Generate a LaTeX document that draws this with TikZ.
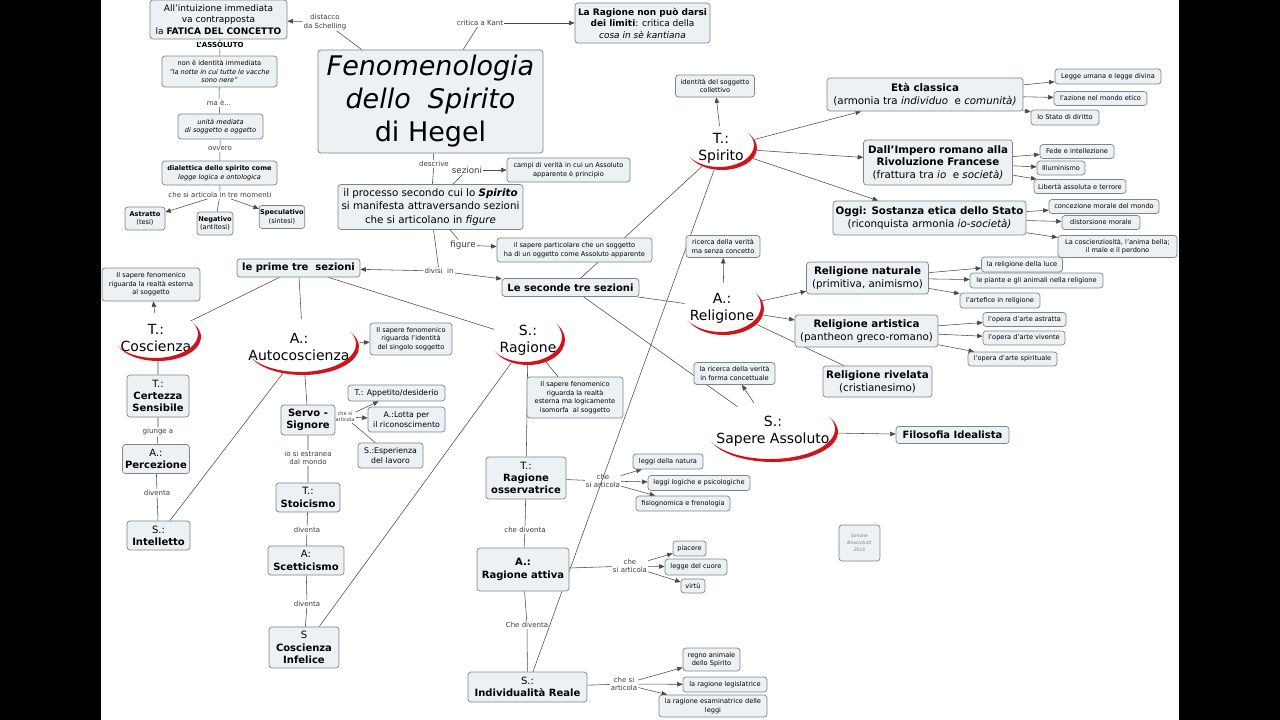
\documentclass[tikz,border=0pt]{standalone}
\usepackage{fontspec}
\setmainfont{DejaVu Sans}
\usetikzlibrary{shapes.geometric,arrows.meta,calc}
\definecolor{boxfill}{HTML}{EBF1F4}
\definecolor{boxline}{HTML}{7A868C}
\definecolor{linkgray}{HTML}{4A4A4A}
\definecolor{labgray}{HTML}{3C3C3C}
\definecolor{arcred}{HTML}{D0141C}
\pgfdeclarelayer{fondo}
\pgfdeclarelayer{collegamenti}
\pgfsetlayers{fondo,collegamenti,main}
\newcommand{\arcorosso}[3]{%
  \pgfmathsetmacro{\arcanga}{atan(#3/#2)}%
  \pgfmathsetmacro{\arcangb}{\arcanga-180}%
  \fill[arcred] ($(#1.center)+(\arcanga:#2pt and #3pt)$)
    arc[start angle=\arcanga, end angle=\arcangb, x radius=#2pt, y radius=#3pt]
    -- ($(#1.center)+(-3pt,3pt)+(\arcangb:#2pt and #3pt)$)
    arc[start angle=\arcangb, end angle=\arcanga, x radius=#2pt, y radius=#3pt]
    -- cycle;}

\begin{document}
\begin{tikzpicture}[x=1pt,y=-1pt,
  wh/.style 2 args={minimum width=#1pt, minimum height=#2pt},
  cbox/.style={draw=boxline, fill=boxfill, rounded corners=3pt, align=center, inner sep=1pt, line width=0.7pt},
  leafbox/.style={cbox, font=\fontsize{6.6}{8.5}\selectfont},
  medbox/.style={cbox, font=\fontsize{10.3}{13.2}\selectfont},
  figbox/.style={cbox, font=\fontsize{10}{12.2}\selectfont},
  linklab/.style={inner sep=1pt, align=center, text=labgray, font=\fontsize{7}{8.3}\selectfont},
  sezione/.style={ellipse, inner sep=0pt},
  seztext/.style={align=center, inner sep=0pt, font=\fontsize{14}{17}\selectfont},
  linea/.style={draw=linkgray, line width=0.55pt},
  freccia/.style={linea, -{Triangle[length=5.5pt,width=4.5pt]}}]
\useasboundingbox (0,0) rectangle (1280,720);
\begin{pgfonlayer}{fondo}
\fill[black] (0,0) rectangle (1280,720);
\fill[white] (101,0) rectangle (1179,720);
\end{pgfonlayer}

\node[cbox, wh={225}{103}, font=\fontsize{27}{33}\selectfont] (titolo) at (430.5,101.5) {\textit{Fenomenologia}\\\textit{dello\ \ Spirito}\\di Hegel};
\node[cbox, wh={135}{40}, font=\fontsize{9}{11.5}\selectfont] (kant) at (642.5,23) {\textbf{La Ragione non può darsi}\\\textbf{dei limiti}: critica della\\\textit{cosa in sè kantiana}};
\node[linklab] (critica) at (480,23) {critica a Kant};
\node[linklab] (distacco) at (325,22) {distacco\\da Schelling};
\node[cbox, wh={137}{39}, font=\fontsize{9}{11.5}\selectfont] (fatica) at (218.5,19.5) {All'intuizione immediata\\va contrapposta\\la \textbf{FATICA DEL CONCETTO}};
\node[linklab, text=black] (lassoluto) at (220,45) {\textbf{L'ASSOLUTO}};
\node[leafbox, wh={115}{31}] (nonid) at (219.5,71.5) {non è identità immediata\\\textit{"la notte in cui tutte le vacche}\\\textit{sono nere"}};
\node[linklab] (maee) at (219,103) {ma è...};
\node[leafbox, wh={85}{25}] (unita) at (220.5,126.5) {\textit{unità mediata}\\\textit{di soggetto e oggetto}};
\node[linklab] (ovvero) at (220,149) {ovvero};
\node[leafbox, wh={115}{24}] (dialettica) at (219.5,173) {\textbf{dialettica dello spirito come}\\\textit{legge logica e ontologica}};
\node[linklab] (momenti) at (220,195) {che si articola in tre momenti};
\node[leafbox, wh={40}{23}] (astratto) at (145,218.5) {\textbf{Astratto}\\(tesi)};
\node[leafbox, wh={36}{23}] (negativo) at (215,223.5) {\textbf{Negativo}\\(antitesi)};
\node[leafbox, wh={44}{23}] (speculativo) at (282,217) {\textbf{Speculativo}\\(sintesi)};

\node[linklab] (descrive) at (434,164) {descrive};
\node[linklab, font=\fontsize{8.7}{10}\selectfont] (sezioni) at (467,170) {sezioni};
\node[leafbox, wh={123}{24}] (campi) at (568.5,170) {campi di verità in cui un Assoluto\\apparente è principio};
\node[medbox, wh={185}{45}] (processo) at (430.5,207) {il processo secondo cui lo \textbf{\textit{Spirito}}\\si manifesta attraversando sezioni\\che si articolano in \textit{figure}};
\node[linklab, font=\fontsize{8.7}{10}\selectfont] (figure) at (463,245) {figure};
\node[leafbox, wh={155}{24}] (particolare) at (574.5,250) {il sapere particolare che un soggetto\\ha di un oggetto come Assoluto apparente};
\node[linklab] (divisi) at (439,271) {divisi\ \ in};
\node[figbox, wh={123}{18}] (prime) at (298.5,268) {\textbf{le prime tre\ \ sezioni}};
\node[figbox, wh={137}{18}] (seconde) at (570.5,287.5) {\textbf{Le seconde tre sezioni}};

\node[sezione, wh={86}{48}] (coscienza) at (158,337) {};
\node[seztext] (coscienzat) at (156,338) {T.:\\Coscienza};
\node[sezione, wh={112}{56}] (autocoscienza) at (303,347) {};
\node[seztext] (autocoscienzat) at (299,347) {A.:\\Autocoscienza};
\node[sezione, wh={74}{50}] (ragione) at (528,340) {};
\node[seztext] (ragionet) at (528,340) {S.:\\Ragione};
\node[sezione, wh={70}{44}] (spirito) at (722,148) {};
\node[seztext] (spiritot) at (721,148) {T.:\\Spirito};
\node[sezione, wh={80}{52}] (religione) at (724,309) {};
\node[seztext] (religionet) at (722,308) {A.:\\Religione};
\node[sezione, wh={130}{60}] (sapere) at (773,432) {};
\node[seztext] (saperet) at (773,431) {S.:\\Sapere Assoluto};
\arcorosso{coscienza}{43}{24}
\arcorosso{autocoscienza}{56}{28}
\arcorosso{ragione}{37}{25}
\arcorosso{spirito}{35}{22}
\arcorosso{religione}{40}{26}
\arcorosso{sapere}{65}{30}

\node[leafbox, wh={98}{33}] (realta) at (151,284.5) {Il sapere fenomenico\\riguarda la realtà esterna\\al soggetto};
\node[figbox, wh={62}{42}] (certezza) at (158,396) {T.:\\\textbf{Certezza}\\\textbf{Sensibile}};
\node[linklab] (giunge) at (158,432) {giunge a};
\node[figbox, wh={67}{29}] (percezione) at (156,459) {A.:\\\textbf{Percezione}};
\node[linklab] (diventaa) at (157,493) {diventa};
\node[figbox, wh={63}{29}] (intelletto) at (158.5,535.5) {S.:\\\textbf{Intelletto}};

\node[leafbox, wh={82}{32}] (identita) at (411,339) {Il sapere fenomenico\\riguarda l'identità\\del singolo soggetto};
\node[figbox, wh={54}{30}] (servo) at (308,420) {\textbf{Servo -}\\\textbf{Signore}};
\node[linklab, font=\fontsize{5}{6}\selectfont] (articolaa) at (345,417) {che si\\articola};
\node[cbox, wh={97}{16}, font=\fontsize{7.8}{10}\selectfont] (appetito) at (396.5,393) {T.: Appetito/desiderio};
\node[cbox, wh={77}{25}, font=\fontsize{7.8}{10}\selectfont] (lotta) at (406.5,419.5) {A.:Lotta per\\il riconoscimento};
\node[cbox, wh={65}{25}, font=\fontsize{7.8}{10}\selectfont] (esperienza) at (390.5,455.5) {S.:Esperienza\\del lavoro};
\node[linklab] (estranea) at (308,458) {io si estranea\\dal mondo};
\node[figbox, wh={64}{29}] (stoicismo) at (308,497.5) {T.:\\\textbf{Stoicismo}};
\node[linklab] (diventab) at (307,530) {diventa};
\node[figbox, wh={76}{29}] (scetticismo) at (306,560.5) {A:\\\textbf{Scetticismo}};
\node[linklab] (diventac) at (307,604) {diventa};
\node[figbox, wh={70}{41}] (infelice) at (304,647.5) {S\\\textbf{Coscienza}\\\textbf{Infelice}};

\node[leafbox, wh={96}{41}] (isomorfa) at (575,397.5) {Il sapere fenomenico\\riguarda la realtà\\esterna ma logicamente\\isomorfa\ \ al soggetto};
\node[figbox, wh={80}{42}] (osservatrice) at (526,478) {T.:\\\textbf{Ragione}\\\textbf{osservatrice}};
\node[linklab] (articolab) at (603,481) {che\\si articola};
\node[leafbox, wh={70}{15}] (natura) at (668,461.5) {leggi della natura};
\node[leafbox, wh={102}{15}] (logiche) at (699,483) {leggi logiche e psicologiche};
\node[leafbox, wh={94}{15}] (fisiognomica) at (683,503.5) {fisiognomica e frenologia};
\node[linklab] (chediventa) at (525,530) {che diventa};
\node[figbox, wh={92}{43}] (attiva) at (523,569.5) {\textbf{A.:}\\\textbf{Ragione attiva}};
\node[linklab] (articolac) at (630,566) {che\\si articola};
\node[leafbox, wh={33}{15}] (piacere) at (689.5,548.5) {piacere};
\node[leafbox, wh={62}{16}] (cuore) at (696,567) {legge del cuore};
\node[leafbox, wh={24}{14}] (virtu) at (693,586) {virtù};
\node[linklab] (Chediventa) at (527,625) {Che diventa};
\node[figbox, wh={119}{30}] (individualita) at (527.5,687) {S.:\\\textbf{Individualità Reale}};
\node[linklab] (articolad) at (624,684) {che si\\articola};
\node[leafbox, wh={57}{23}] (regno) at (711.5,659.5) {regno animale\\dello Spirito};
\node[leafbox, wh={84}{15}] (legislatrice) at (725,684.5) {la ragione legislatrice};
\node[leafbox, wh={108}{22}] (esaminatrice) at (713,706) {la ragione esaminatrice delle\\leggi};

\node[leafbox, wh={79}{22}] (collettivo) at (715,86) {identità del soggetto\\collettivo};
\node[medbox, wh={196}{33}] (eta) at (925,94.5) {\textbf{Età classica}\\(armonia tra \textit{individuo}\ \ e \textit{comunità)}};
\node[medbox, wh={149}{45}, font=\fontsize{10.3}{12.5}\selectfont] (impero) at (938,162.5) {\textbf{Dall'Impero romano alla}\\\textbf{Rivoluzione Francese}\\(frattura tra \textit{io}\ \ e \textit{società)}};
\node[medbox, wh={193}{34}] (oggi) at (929.5,218) {\textbf{Oggi: Sostanza etica dello Stato}\\(riconquista armonia \textit{io-società)}};
\node[leafbox, wh={106}{15}] (leggeumana) at (1108,76.5) {Legge umana e legge divina};
\node[leafbox, wh={93}{14}] (azione) at (1100.5,98.5) {l'azione nel mondo etico};
\node[leafbox, wh={68}{15}] (stato) at (1065,117.5) {lo Stato di diritto};
\node[leafbox, wh={74}{14}] (fede) at (1077,151.5) {Fede e intellezione};
\node[leafbox, wh={48}{14}] (illuminismo) at (1061,168) {Illuminismo};
\node[leafbox, wh={92}{14}] (liberta) at (1080,186.5) {Libertà assoluta e terrore};
\node[leafbox, wh={110}{14}] (concezione) at (1104,206.5) {concezione morale del mondo};
\node[leafbox, wh={78}{14}] (distorsione) at (1101,222.5) {distorsione morale};
\node[leafbox, wh={119}{22}] (coscienziosita) at (1117.5,246.5) {La coscienziosità, l'anima bella;\\il male e il perdono};

\node[leafbox, wh={74}{22}] (senzaconcetto) at (723,246.5) {ricerca della verità\\ma senza concetto};
\node[medbox, wh={122}{32}] (naturale) at (867.5,278) {\textbf{Religione naturale}\\(primitiva, animismo)};
\node[medbox, wh={143}{32}] (artistica) at (866.5,331) {\textbf{Religione artistica}\\(pantheon greco-romano)};
\node[medbox, wh={109}{31}] (rivelata) at (877.5,381.5) {\textbf{Religione rivelata}\\(cristianesimo)};
\node[leafbox, wh={81}{15}] (luce) at (1022,264.5) {la religione della luce};
\node[leafbox, wh={133}{15}] (piante) at (1036.5,280.5) {le piante e gli animali nella religione};
\node[leafbox, wh={80}{15}] (artefice) at (1000,300.5) {l'artefice in religione};
\node[leafbox, wh={83}{14}] (astratta) at (1024.5,319.5) {l'opera d'arte astratta};
\node[leafbox, wh={82}{14}] (vivente) at (1024,338) {l'opera d'arte vivente};
\node[leafbox, wh={89}{14}] (spirituale) at (1012.5,359) {l'opera d'arte spirituale};

\node[leafbox, wh={81}{22}] (concettuale) at (734.5,373.5) {la ricerca della verità\\in forma concettuale};
\node[figbox, wh={113}{17}] (filosofia) at (952.5,435) {\textbf{Filosofia Idealista}};
\node[cbox, wh={41}{36}, text=gray, font=\fontsize{4.5}{7}\selectfont] (firma) at (859.5,543) {\textit{Simone}\\\textit{Bruscolotti}\\\textit{2015}};

\begin{pgfonlayer}{collegamenti}
\draw[linea] (titolo) -- (distacco);
\draw[freccia] (distacco) -- (fatica);
\draw[linea] (titolo) -- (critica);
\draw[freccia] (critica) -- (kant);
\draw[linea] (fatica) -- (lassoluto) -- (nonid) -- (maee) -- (unita) -- (ovvero) -- (dialettica) -- (momenti);
\draw[freccia] (momenti) -- (astratto);
\draw[linea] (momenti) -- (negativo);
\draw[freccia] (momenti) -- (speculativo);
\draw[linea] (titolo) -- (descrive) -- (processo);
\draw[linea] (processo) -- (sezioni);
\draw[freccia] (sezioni) -- (campi);
\draw[linea] (processo) -- (figure);
\draw[freccia] (figure) -- (particolare);
\draw[linea] (processo) -- (divisi);
\draw[freccia] (divisi) -- (prime);
\draw[freccia] (divisi) -- (seconde);
\draw[linea] (prime) -- (coscienza);
\draw[linea] (prime) -- (autocoscienza);
\draw[linea] (prime) -- (ragione);
\draw[freccia] (coscienza) -- (realta);
\draw[linea] (coscienza) -- (certezza) -- (giunge) -- (percezione) -- (diventaa) -- (intelletto);
\draw[linea] (autocoscienza) -- (intelletto);
\draw[freccia] (autocoscienza) -- (identita);
\draw[linea] (autocoscienza) -- (servo) -- (articolaa);
\draw[freccia] (articolaa) -- (appetito);
\draw[freccia] (articolaa) -- (lotta);
\draw[linea] (articolaa) -- (esperienza);
\draw[linea] (servo) -- (estranea) -- (stoicismo) -- (diventab) -- (scetticismo) -- (diventac) -- (infelice);
\draw[linea] (ragione) -- (infelice);
\draw[linea] (ragione) -- (isomorfa);
\draw[linea] (ragione) -- (osservatrice) -- (articolab);
\draw[freccia] (articolab) -- (natura);
\draw[freccia] (articolab) -- (logiche);
\draw[freccia] (articolab) -- (fisiognomica);
\draw[linea] (osservatrice) -- (chediventa) -- (attiva) -- (articolac);
\draw[freccia] (articolac) -- (piacere);
\draw[freccia] (articolac) -- (cuore);
\draw[freccia] (articolac) -- (virtu);
\draw[linea] (attiva) -- (Chediventa) -- (individualita) -- (articolad);
\draw[freccia] (articolad) -- (regno);
\draw[freccia] (articolad) -- (legislatrice);
\draw[freccia] (articolad) -- (esaminatrice);
\draw[linea] (seconde) -- (spirito);
\draw[linea] (seconde) -- (religione);
\draw[linea] (seconde) -- (sapere);
\draw[linea] (spirito) -- (individualita);
\draw[freccia] (spirito) -- (collettivo);
\draw[freccia] (spirito) -- (eta);
\draw[freccia] (spirito) -- (impero);
\draw[freccia] (spirito) -- (oggi);
\draw[freccia] (eta) -- (leggeumana);
\draw[freccia] (eta) -- (azione);
\draw[freccia] (eta) -- (stato);
\draw[freccia] (impero) -- (fede);
\draw[freccia] (impero) -- (illuminismo);
\draw[freccia] (impero) -- (liberta);
\draw[freccia] (oggi) -- (concezione);
\draw[freccia] (oggi) -- (distorsione);
\draw[freccia] (oggi) -- (coscienziosita);
\draw[freccia] (religione) -- (senzaconcetto);
\draw[freccia] (religione) -- (naturale);
\draw[freccia] (religione) -- (artistica);
\draw[linea] (religione) -- (rivelata);
\draw[freccia] (naturale) -- (luce);
\draw[freccia] (naturale) -- (piante);
\draw[freccia] (naturale) -- (artefice);
\draw[freccia] (artistica) -- (astratta);
\draw[freccia] (artistica) -- (vivente);
\draw[freccia] (artistica) -- (spirituale);
\draw[freccia] (sapere) -- (concettuale);
\draw[freccia] (sapere) -- (filosofia);
\end{pgfonlayer}
\end{tikzpicture}
\end{document}
